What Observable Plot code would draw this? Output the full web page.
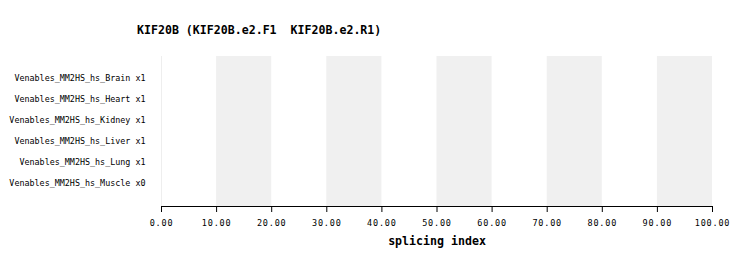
<!DOCTYPE html>
<html>
<head>
<meta charset="utf-8">
<script src="https://cdn.jsdelivr.net/npm/d3@7"></script>
<script src="https://cdn.jsdelivr.net/npm/@observablehq/plot@0.6"></script>
<style>
  html, body { margin: 0; padding: 0; background: #fff; }
  #wrap { position: relative; width: 750px; height: 266px; }
  #title { position: absolute; left: 137px; top: 23px; font: bold 11.6px "DejaVu Sans Mono", monospace; color: #000; white-space: pre; }
  #chart { position: absolute; left: 0; top: 0; }
</style>
</head>
<body>
<div id="wrap">
  <div id="chart"></div>
  <div id="title"></div>
</div>
<script>
const titleText = "KIF20B (KIF20B.e2.F1  KIF20B.e2.R1)";
const categories = [
  "Venables_MM2HS_hs_Brain x1",
  "Venables_MM2HS_hs_Heart x1",
  "Venables_MM2HS_hs_Kidney x1",
  "Venables_MM2HS_hs_Liver x1",
  "Venables_MM2HS_hs_Lung x1",
  "Venables_MM2HS_hs_Muscle x0"
];
const xTicks = [0, 10, 20, 30, 40, 50, 60, 70, 80, 90, 100];
const bandStarts = [10, 30, 50, 70, 90];
const bandWidth = 10;
const xLabel = "splicing index";

document.getElementById("title").textContent = titleText;

const bands = bandStarts.map(s => ({x1: s, x2: s + bandWidth}));

const chart = Plot.plot({
  width: 750,
  height: 266,
  marginLeft: 161,
  marginRight: 38,
  marginTop: 56,
  marginBottom: 60,
  style: {fontFamily: "DejaVu Sans Mono, monospace", background: "#fff", color: "#000"},
  x: {domain: [0, 100]},
  y: {domain: categories, range: [65, 195]},
  marks: [
    Plot.rectX(bands, {x1: "x1", x2: "x2", fill: "#f0f0f0"}),
    Plot.ruleX([0], {stroke: "#eeeeee"}),
    Plot.frame({anchor: "bottom", stroke: "#000"}),
    Plot.axisX({
      ticks: xTicks,
      tickFormat: d3.format(".2f"),
      tickSize: 6,
      tickPadding: 7,
      label: null,
      fontSize: 8.5,
      stroke: "#000"
    }),
    Plot.axisY({
      tickSize: 0,
      tickPadding: 16,
      label: null,
      fontSize: 8.4
    }),
    Plot.text([xLabel], {
      frameAnchor: "bottom",
      dy: 38,
      lineAnchor: "bottom",
      fontSize: 11.6,
      fontWeight: "bold",
      fill: "#000"
    })
  ]
});
chart.querySelectorAll('[aria-label="x-axis tick label"] text').forEach(t => t.setAttribute("letter-spacing", "0.8"));
document.getElementById("chart").appendChild(chart);
</script>
</body>
</html>
